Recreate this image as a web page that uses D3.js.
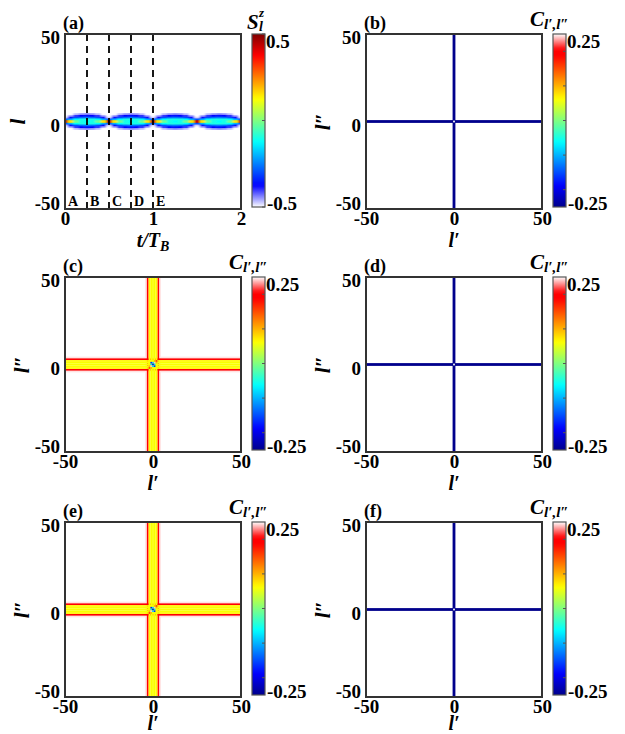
<!DOCTYPE html>
<html>
<head>
<meta charset="utf-8">
<script src="https://cdn.jsdelivr.net/npm/d3@7"></script>
<style>
  body { margin: 0; background: #fff; }
  text { font-family: "Liberation Serif", "Times New Roman", serif; font-weight: bold; fill: #000; }
  .it { font-style: italic; }
</style>
</head>
<body>
<svg id="chart" width="625" height="734"></svg>
<script>
// ---- panel (a): S_l^z near l = 0, one column every T_B/16 ----
var times = [0, 0.0625, 0.125, 0.1875, 0.25, 0.3125, 0.375, 0.4375, 0.5, 0.5625, 0.625, 0.6875, 0.75, 0.8125, 0.875, 0.9375,
  1, 1.0625, 1.125, 1.1875, 1.25, 1.3125, 1.375, 1.4375, 1.5, 1.5625, 1.625, 1.6875, 1.75, 1.8125, 1.875, 1.9375, 2]
var sSite0 = [0.42, 0.15, -0.02, -0.1, -0.12, -0.1, -0.02, 0.15, 0.42, 0.15, -0.02, -0.1, -0.12, -0.1, -0.02, 0.15,
  0.42, 0.15, -0.02, -0.1, -0.12, -0.1, -0.02, 0.15, 0.42, 0.15, -0.02, -0.1, -0.12, -0.1, -0.02, 0.15, 0.42]
var sSite1 = [-0.3, -0.2, -0.12, -0.1, -0.1, -0.1, -0.12, -0.2, -0.3, -0.2, -0.12, -0.1, -0.1, -0.1, -0.12, -0.2,
  -0.3, -0.2, -0.12, -0.1, -0.1, -0.1, -0.12, -0.2, -0.3, -0.2, -0.12, -0.1, -0.1, -0.1, -0.12, -0.2, -0.3]
var sSite2 = [-0.48, -0.38, -0.3, -0.27, -0.26, -0.27, -0.3, -0.38, -0.48, -0.38, -0.3, -0.27, -0.26, -0.27, -0.3, -0.38,
  -0.48, -0.38, -0.3, -0.27, -0.26, -0.27, -0.3, -0.38, -0.48, -0.38, -0.3, -0.27, -0.26, -0.27, -0.3, -0.38, -0.48]
var sSite3 = [-0.5, -0.46, -0.4, -0.37, -0.36, -0.37, -0.4, -0.46, -0.5, -0.46, -0.4, -0.37, -0.36, -0.37, -0.4, -0.46,
  -0.5, -0.46, -0.4, -0.37, -0.36, -0.37, -0.4, -0.46, -0.5, -0.46, -0.4, -0.37, -0.36, -0.37, -0.4, -0.46, -0.5]
var sSite4 = [-0.5, -0.5, -0.47, -0.45, -0.44, -0.45, -0.47, -0.5, -0.5, -0.5, -0.47, -0.45, -0.44, -0.45, -0.47, -0.5,
  -0.5, -0.5, -0.47, -0.45, -0.44, -0.45, -0.47, -0.5, -0.5, -0.5, -0.47, -0.45, -0.44, -0.45, -0.47, -0.5, -0.5]
// site l and -l look identical in the picture
var sites = [4, 3, 2, 1, 0, -1, -2, -3, -4]
var siteRows = [sSite4, sSite3, sSite2, sSite1, sSite0, sSite1, sSite2, sSite3, sSite4]

var dashTimes = [0.25, 0.5, 0.75, 1]
var stageNames = ['A', 'B', 'C', 'D', 'E']
var stageTimes = [0, 0.25, 0.5, 0.75, 1]
var timeTicks = [0, 1, 2]
var siteTicks = [-50, 0, 50]

// ---- correlation panels: a cross along l'=0 and l''=0 ----
// thin cross, panels (b) (d) (f)
var thinOffsets = [0]
var thinValues = [-0.25]
var thinCenterOffsets = [0]
var thinCenter = [[0.25]]
// wide cross, panels (c) (e): band profile across the arm
var wideOffsets = [-4, -3, -2, -1, 0, 1, 2, 3, 4]
var wideValues = [0.245, 0.19, 0.065, 0.06, 0.06, 0.06, 0.065, 0.19, 0.245]
// middle of the cross, rows l'' = 2..-2, columns l' = -2..2
var wideCenterOffsets = [-2, -1, 0, 1, 2]
var wideCenter = [
  [0.06, 0.06, 0.06, 0.1, 0.16],
  [0.06, -0.17, -0.08, 0.24, 0.1],
  [0.06, -0.08, -0.21, -0.08, 0.06],
  [0.1, 0.24, -0.08, -0.17, 0.06],
  [0.16, 0.1, 0.06, 0.06, 0.06]
]
var corrTicks = [-0.2, -0.1, 0, 0.1, 0.2]
var spinTicks = [-0.5, 0, 0.5]

var panels = [
  { name: '(b)', col: 1, row: 0, half: 0.8, offsets: thinOffsets, values: thinValues, cOff: thinCenterOffsets, center: thinCenter },
  { name: '(c)', col: 0, row: 1, half: 0.5, offsets: wideOffsets, values: wideValues, cOff: wideCenterOffsets, center: wideCenter },
  { name: '(d)', col: 1, row: 1, half: 0.8, offsets: thinOffsets, values: thinValues, cOff: thinCenterOffsets, center: thinCenter },
  { name: '(e)', col: 0, row: 2, half: 0.5, offsets: wideOffsets, values: wideValues, cOff: wideCenterOffsets, center: wideCenter },
  { name: '(f)', col: 1, row: 2, half: 0.8, offsets: thinOffsets, values: thinValues, cOff: thinCenterOffsets, center: thinCenter }
]

// ---- layout ----
var W = 176, H = 175
var colX = [65, 366]
var rowY = [34, 277, 522]
var xlabelDy = [38, 38, 33]

// colour maps (jet with a white end)
var spinColor = d3.scaleLinear()
  .domain([-0.5, -0.375, -0.125, 0.125, 0.375, 0.5])
  .range(['#ffffff', '#0000ff', '#00ffff', '#ffff00', '#ff0000', '#800000'])
var corrColor = d3.scaleLinear()
  .domain([-0.25, -0.1875, -0.0625, 0.0625, 0.1875, 0.205, 0.25])
  .range(['#00008c', '#0000ff', '#00ffff', '#ffff00', '#ff0000', '#ff0000', '#ffffff'])

var svg = d3.select('#chart')
var defs = svg.append('defs')
defs.append('filter').attr('id', 'smoothA')
  .append('feGaussianBlur').attr('stdDeviation', '1 0.2')
defs.append('filter').attr('id', 'smoothC')
  .append('feGaussianBlur').attr('stdDeviation', '0.45')

function frameClip(id) {
  defs.append('clipPath').attr('id', id)
    .append('rect').attr('width', W).attr('height', H)
}

function addAxes(g, x, y, xTicks) {
  var xAxis = d3.axisBottom(x).tickValues(xTicks).tickSize(0).tickPadding(2).tickFormat(d => String(d))
  g.append('g').attr('transform', 'translate(0,' + H + ')').call(xAxis)
    .call(a => a.select('.domain').remove())
    .selectAll('text').style('font-size', '19px').style('font-family', null)

  var yAxis = d3.axisLeft(y).tickValues(siteTicks).tickSize(0).tickPadding(5).tickFormat(d => String(d))
  g.append('g').call(yAxis)
    .call(a => a.select('.domain').remove())
    .selectAll('text').style('font-size', '19px').style('font-family', null)
    .attr('dy', d => d === -50 ? '0.05em' : '0.5em')

  g.append('rect').attr('width', W).attr('height', H)
    .attr('fill', 'none').attr('stroke', '#333').attr('stroke-width', 2)
}

var gradCount = 0
function addColorbar(g, color, lo, hi, ticks, topLabel, botLabel) {
  var id = 'grad' + (gradCount++)
  var grad = defs.append('linearGradient').attr('id', id)
    .attr('x1', 0).attr('y1', 1).attr('x2', 0).attr('y2', 0)
  d3.range(0, 1.0001, 0.02).forEach(f => {
    grad.append('stop').attr('offset', f).attr('stop-color', color(lo + f * (hi - lo)))
  })
  var cbH = H - 2
  var cy = d3.scaleLinear().domain([lo, hi]).range([cbH, 0])
  var cb = g.append('g').attr('transform', 'translate(' + (W + 11) + ',0)')
  cb.append('rect').attr('width', 13).attr('height', cbH).attr('fill', 'url(#' + id + ')')
  cb.selectAll('.cbtick').data(ticks).enter().append('line')
    .attr('x1', 10).attr('x2', 13)
    .attr('y1', d => cy(d)).attr('y2', d => cy(d))
    .attr('stroke', '#555').attr('stroke-width', 1)
  cb.append('rect').attr('width', 13).attr('height', cbH)
    .attr('fill', 'none').attr('stroke', '#555').attr('stroke-width', 1.2)
  cb.append('text').text(topLabel).attr('x', 14).attr('y', cy(hi) + 7)
    .attr('dominant-baseline', 'central').style('font-size', '19px')
  cb.append('text').text(botLabel).attr('x', 15).attr('y', cy(lo) - 4)
    .attr('dominant-baseline', 'central').style('font-size', '19px')
}

// ---------------- panel (a) ----------------
var ga = svg.append('g').attr('transform', 'translate(' + colX[0] + ',' + rowY[0] + ')')
var xa = d3.scaleLinear().domain([0, 2]).range([0, W])
var ya = d3.scaleLinear().domain([-50, 50]).range([H, 0])
frameClip('clipA')
var dt = times[1] - times[0]
var cellsA = []
siteRows.forEach((row, r) => row.forEach((v, i) => cellsA.push({ t: times[i], l: sites[r], v: v })))
// outer sites first; each row is drawn a little taller so the inner rows sit on top
cellsA.sort((a, b) => Math.abs(b.l) - Math.abs(a.l))
ga.append('g').attr('clip-path', 'url(#clipA)')
  .append('g').attr('filter', 'url(#smoothA)')
  .selectAll('rect').data(cellsA).enter().append('rect')
  .attr('x', d => xa(d.t - dt / 2))
  .attr('width', xa(dt) - xa(0) + 0.3)
  .attr('y', d => ya(d.l + 0.75))
  .attr('height', d => ya(d.l - 0.75) - ya(d.l + 0.75))
  .attr('fill', d => spinColor(d.v))

ga.selectAll('.dash').data(dashTimes).enter().append('line')
  .attr('x1', d => xa(d)).attr('x2', d => xa(d))
  .attr('y1', 0).attr('y2', H)
  .attr('stroke', '#000').attr('stroke-width', 1.8).attr('stroke-dasharray', '7,5')

ga.selectAll('.stage').data(stageNames).enter().append('text')
  .text(d => d)
  .attr('x', (d, i) => xa(stageTimes[i]) + 3)
  .attr('y', H - 3)
  .style('font-size', '14px')

addAxes(ga, xa, ya, timeTicks)
addColorbar(ga, spinColor, -0.5, 0.5, spinTicks, '0.5', '-0.5')

ga.append('text').text('(a)').attr('x', -2).attr('y', -5).style('font-size', '18px')
ga.append('text').attr('class', 'it').text('l')
  .attr('transform', 'translate(-40,' + (H / 2) + ') rotate(-90)')
  .attr('text-anchor', 'middle').style('font-size', '21px')
var xlA = ga.append('text').attr('class', 'it').attr('x', W / 2).attr('y', H + xlabelDy[0])
  .attr('text-anchor', 'middle').style('font-size', '20px')
xlA.append('tspan').text('t/T')
xlA.append('tspan').text('B').attr('dy', 4).style('font-size', '14px')
var sl = ga.append('text').attr('class', 'it').style('font-size', '21px')
sl.append('tspan').text('S').attr('x', W + 6).attr('y', -5)
sl.append('tspan').text('z').attr('x', W + 18).attr('y', -17).style('font-size', '13px')
sl.append('tspan').text('l').attr('x', W + 18).attr('y', -3).style('font-size', '14px')

// ---------------- correlation panels ----------------
panels.forEach((p, k) => {
  var g = svg.append('g').attr('transform', 'translate(' + colX[p.col] + ',' + rowY[p.row] + ')')
  var x = d3.scaleLinear().domain([-50, 50]).range([0, W])
  var y = d3.scaleLinear().domain([-50, 50]).range([H, 0])
  var clipId = 'clipC' + k
  frameClip(clipId)

  // arm cells, outer offsets first so the inner part of each arm stays on top
  var arms = []
  p.offsets.forEach((o, i) => {
    arms.push({ dir: 'v', o: o, v: p.values[i] })
    arms.push({ dir: 'h', o: o, v: p.values[i] })
  })
  arms.sort((a, b) => Math.abs(b.o) - Math.abs(a.o))
  var centerCells = []
  p.center.forEach((row, r) => row.forEach((v, c) => {
    centerCells.push({ lp: p.cOff[c], lpp: p.cOff[p.cOff.length - 1 - r], v: v })
  }))

  var hw = p.half
  var heat = g.append('g').attr('clip-path', 'url(#' + clipId + ')')
    .append('g').attr('filter', 'url(#smoothC)')
  heat.selectAll('.arm').data(arms).enter().append('rect')
    .attr('x', d => d.dir === 'v' ? x(d.o - hw) : 0)
    .attr('width', d => d.dir === 'v' ? x(hw) - x(-hw) : W)
    .attr('y', d => d.dir === 'h' ? y(d.o + hw) : 0)
    .attr('height', d => d.dir === 'h' ? y(-hw) - y(hw) : H)
    .attr('fill', d => corrColor(d.v))
  heat.selectAll('.mid').data(centerCells).enter().append('rect')
    .attr('x', d => x(d.lp - 0.5))
    .attr('width', x(1) - x(0))
    .attr('y', d => y(d.lpp + 0.5))
    .attr('height', y(-1) - y(0))
    .attr('fill', d => corrColor(d.v))

  addAxes(g, x, y, siteTicks)
  addColorbar(g, corrColor, -0.25, 0.25, corrTicks, '0.25', '-0.25')

  g.append('text').text(p.name).attr('x', -2).attr('y', -5).style('font-size', '18px')
  var yl = g.append('text').attr('class', 'it')
    .attr('transform', 'translate(-36,' + (H / 2) + ') rotate(-90)')
    .attr('text-anchor', 'middle').style('font-size', '21px')
  yl.append('tspan').text('l\u2033')
  g.append('text').attr('class', 'it').text('l\u2032')
    .attr('x', W / 2).attr('y', H + xlabelDy[p.row])
    .attr('text-anchor', 'middle').style('font-size', '20px')
  var ct = g.append('text').attr('class', 'it').style('font-size', '21px')
  ct.append('tspan').text('C').attr('x', W - 12).attr('y', -8)
  ct.append('tspan').text('l\u2032,l\u2033').attr('x', W + 2).attr('y', -5).style('font-size', '15px')
})
</script>
</body>
</html>
